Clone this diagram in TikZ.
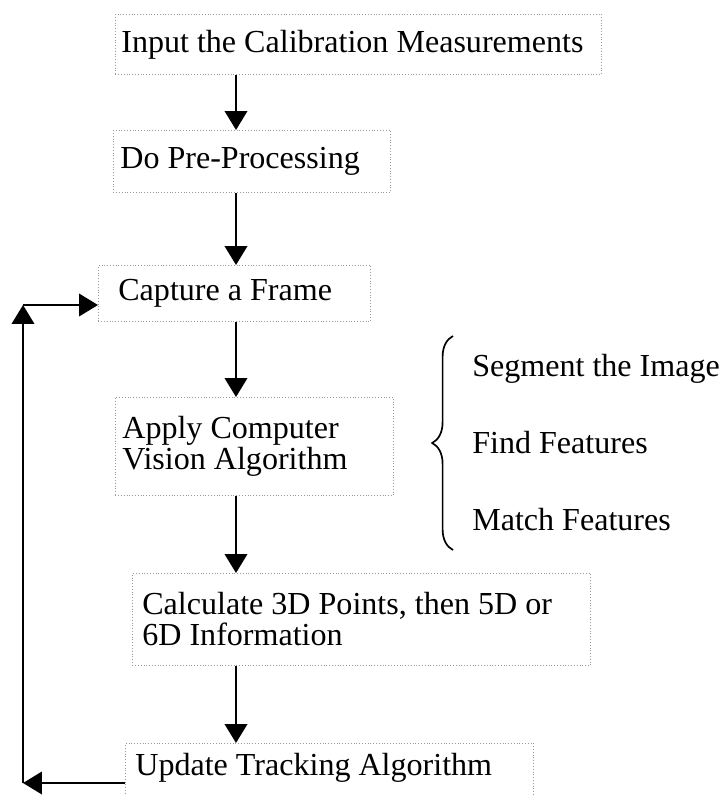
\documentclass[tikz,border=0pt]{standalone}
\usepackage{fontspec}
\setmainfont{Liberation Serif}
\usepackage{tikz}
\usetikzlibrary{arrows.meta,positioning,calc,decorations.pathreplacing}

\begin{document}
\begin{tikzpicture}[x=0.025cm, y=-0.025cm,
    font=\fontsize{22.8}{22.2}\selectfont,
    stepbox/.style={draw=black!40, dash pattern=on 0.5pt off 1.5pt, line width=0.5pt,
        anchor=north west, align=flush left, inner ysep=0pt},
    flow/.style={-{Triangle[length=13.5pt, width=16pt]}, line width=1.6pt},
    brace/.style={decorate, decoration={brace, amplitude=0.52cm}, line width=1.2pt}]

    % Page size as in the scan
    \useasboundingbox (0,0) rectangle (723,796);

    % Main steps (top-left corners, pixel units)
    \node[stepbox, minimum height=1.5cm, inner xsep=0.15cm, text width=11.85cm] (calib) at (115,14)
        {Input the Calibration Measurements};
    \node[stepbox, minimum height=1.55cm, inner xsep=0.175cm, text width=6.575cm] (prep) at (113,130)
        {Do Pre-Processing};
    \node[stepbox, minimum height=1.4cm, inner xsep=0.5cm, text width=5.8cm] (capture) at (98,265)
        {Capture a Frame};
    \node[stepbox, minimum height=2.45cm, inner xsep=0.175cm, text width=6.6cm] (vision) at (115,397)
        {Apply Computer\\Vision Algorithm};
    \node[stepbox, minimum height=2.3cm, inner xsep=0.25cm, text width=10.95cm] (calc) at (132,573)
        {Calculate 3D Points, then 5D or\\6D Information};
    \node[stepbox, inner xsep=0.25cm, inner ysep=0.25cm, text height=0.55cm, text depth=1cm,
        text width=9.7cm] (track) at (125,743)
        {Update Tracking Algorithm};

    % Downward arrows between the steps
    \coordinate (ax) at (236,0);
    \foreach \a/\b in {calib/prep, prep/capture, capture/vision, vision/calc, calc/track}
        \draw[flow] (\a.south -| ax) -- (\b.north -| ax);

    % Loop back to the frame capture
    \coordinate (loopB) at (23,783);
    \coordinate (loopT) at (23,305);
    \draw[flow] (track.west |- loopB) -- (loopB);
    \draw[flow] (loopB) -- (loopT);
    \draw[flow] (loopT) -- (capture.west |- loopT);

    % Sub-steps of the vision algorithm
    \draw[brace] (453,550) -- (453,336);
    \foreach \n/\y/\t in {segment/376/Segment the Image, find/453/Find Features, match/530/Match Features}
        \node[anchor=base west, inner sep=0pt] (\n) at (472,\y) {\t};

\end{tikzpicture}
\end{document}
